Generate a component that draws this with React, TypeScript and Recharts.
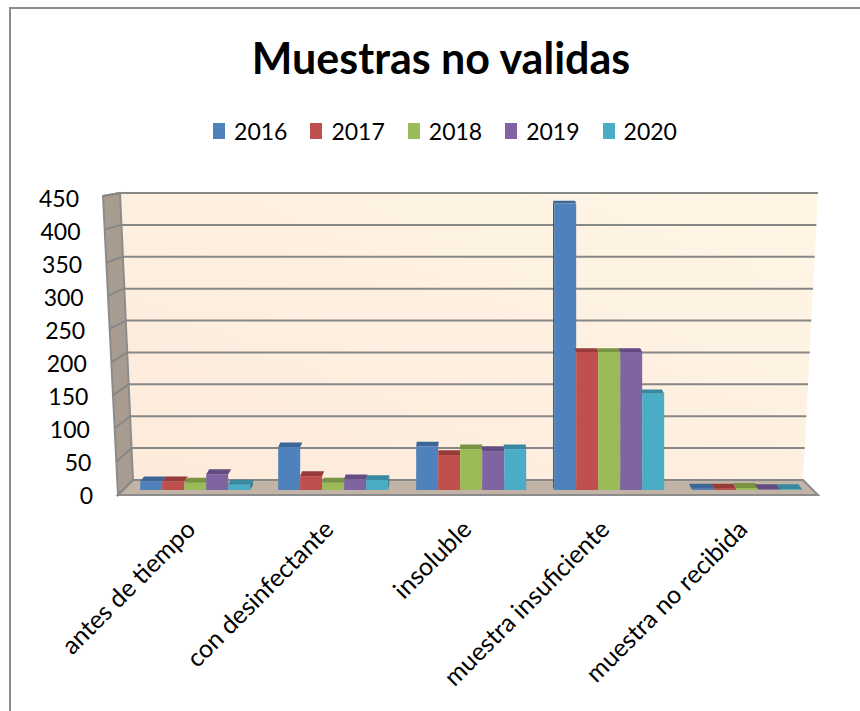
import { BarChart, Bar, XAxis, YAxis, Legend, Customized } from "recharts";

const categories = [
  "antes de tiempo",
  "con desinfectante",
  "insoluble",
  "muestra insuficiente",
  "muestra no recibida",
];
const years = ["2016", "2017", "2018", "2019", "2020"];
const values2016 = [13, 65, 66, 434, 2];
const values2017 = [13, 21, 53, 209, 2];
const values2018 = [11, 11, 62, 209, 3];
const values2019 = [24, 16, 59, 209, 1];
const values2020 = [8, 15, 62, 146, 1];
const yTicks = [0, 50, 100, 150, 200, 250, 300, 350, 400, 450];

const seriesValues = [values2016, values2017, values2018, values2019, values2020];
const colors = ["#4f81bd", "#c0504d", "#9bbb59", "#8064a2", "#4bacc6"];
const topColors = ["#3d6698", "#963b39", "#789443", "#624c82", "#38899f"];
const sideColors = ["#34598a", "#843331", "#6a853a", "#564272", "#31798e"];

const data = categories.map((category, i) => {
  const row: Record<string, string | number> = { category };
  years.forEach((y, j) => {
    row[y] = seriesValues[j][i];
  });
  return row;
});

// layout
const W = 860;
const H = 711;
const PLOT_TOP = 193;
const PLOT_BOTTOM = 490;
const PLOT_RIGHT = 815;
const Y_AXIS_W = 125;
const X_AXIS_H = 60;
const FONT = "Lato, 'Open Sans', sans-serif";
const VIEW_X = 470;

// 3d box (decoration only)
const BACK_TOP = 193;
const BACK_BOTTOM = 480;
const FRONT_BOTTOM = 495;
const lerp = (a: number, b: number, t: number) => a + (b - a) * t;

const Walls = () => {
  const backY = (v: number) => BACK_BOTTOM - (v / 450) * (BACK_BOTTOM - BACK_TOP);
  const outerY = (v: number) => FRONT_BOTTOM - (v / 450) * (FRONT_BOTTOM - 196);
  const backLeft = (y: number) => lerp(133, 120, (BACK_BOTTOM - y) / (BACK_BOTTOM - BACK_TOP));
  const backRight = (y: number) => lerp(803, 818, (BACK_BOTTOM - y) / (BACK_BOTTOM - BACK_TOP));
  const outerX = (y: number) => lerp(118, 103, (FRONT_BOTTOM - y) / (FRONT_BOTTOM - 196));
  return (
    <g>
      <defs>
        <linearGradient id="wallFill" x1="0" y1="1" x2="1" y2="0">
          <stop offset="0%" stopColor="#fdeadb" />
          <stop offset="100%" stopColor="#fff6e6" />
        </linearGradient>
      </defs>
      <polygon
        points={`120,${BACK_TOP} 818,${BACK_TOP} 803,${BACK_BOTTOM} 133,${BACK_BOTTOM}`}
        fill="url(#wallFill)"
      />
      <polygon
        points={`103,196 120,${BACK_TOP} 133,${BACK_BOTTOM} 118,${FRONT_BOTTOM}`}
        fill="#a89c90"
        stroke="#8c8c8c"
        strokeWidth={2}
      />
      <polygon
        points={`118,${FRONT_BOTTOM} 133,${BACK_BOTTOM} 803,${BACK_BOTTOM} 818,${FRONT_BOTTOM}`}
        fill="#c1b3a5"
        stroke="#8c8c8c"
        strokeWidth={2}
      />
      {yTicks.map((v) => {
        const y = backY(v);
        const oy = outerY(v);
        return (
          <g key={v}>
            <line x1={backLeft(y)} y1={y} x2={backRight(y)} y2={y} stroke="#878787" strokeWidth={2} />
            <line x1={backLeft(y)} y1={y} x2={outerX(oy)} y2={oy} stroke="#878787" strokeWidth={2} />
          </g>
        );
      })}
    </g>
  );
};

const makeBarShape = (idx: number) => (props: any) => {
  const { x, y, width, height } = props;
  if (width == null || height == null || isNaN(y)) return <g />;
  const base = y + height;
  const cx = x + width / 2;
  const dx = (VIEW_X - cx) * 0.012;
  const dy = 5 - height * 0.008;
  return (
    <g>
      {dx > 0 && idx === 4 && (
        <polygon
          points={`${x + width},${base} ${x + width + dx},${base - dy} ${x + width + dx},${y - dy} ${x + width},${y}`}
          fill={sideColors[idx]}
        />
      )}
      {dx < 0 && idx === 0 && (
        <polygon
          points={`${x},${base} ${x + dx},${base - dy} ${x + dx},${y - dy} ${x},${y}`}
          fill={sideColors[idx]}
        />
      )}
      <polygon
        points={`${x},${y} ${x + width},${y} ${x + width + dx},${y - dy} ${x + dx},${y - dy}`}
        fill={topColors[idx]}
      />
      <rect x={x} y={y} width={width} height={height} fill={colors[idx]} />
    </g>
  );
};

const YTick = (props: any) => {
  const { y, payload } = props;
  const v = payload.value as number;
  const xEnd = 93 - (v * 14) / 450;
  return (
    <text x={xEnd} y={y} dy={13.5} textAnchor="end" fontSize={23} fontFamily={FONT} fill="#000">
      {v}
    </text>
  );
};

const XTick = (props: any) => {
  const { x, y, payload } = props;
  const ax = x + 3;
  const ay = y + 41;
  return (
    <text
      x={ax}
      y={ay}
      transform={`rotate(-45 ${ax} ${ay})`}
      textAnchor="end"
      fontSize={25}
      fontFamily={FONT}
      fill="#000"
    >
      {payload.value}
    </text>
  );
};

const LegendContent = () => (
  <div style={{ display: "flex", justifyContent: "center", alignItems: "center", paddingLeft: 30 }}>
    {years.map((yr, i) => (
      <div key={yr} style={{ display: "flex", alignItems: "center", marginRight: i < years.length - 1 ? 23 : 0 }}>
        <span style={{ display: "inline-block", width: 12, height: 16, background: colors[i], marginRight: 9 }} />
        <span style={{ fontFamily: FONT, fontSize: 23, color: "#000", lineHeight: "28px" }}>{yr}</span>
      </div>
    ))}
  </div>
);

export default function App() {
  return (
    <div style={{ position: "absolute", left: 0, top: 0, width: W, height: H, background: "#fff", overflow: "hidden" }}>
      <div
        style={{
          position: "absolute",
          left: 9,
          top: 7,
          width: 849,
          height: 702,
          borderLeft: "2px solid #8c8c8c",
          borderTop: "2px solid #8c8c8c",
        }}
      />
      <div
        style={{
          position: "absolute",
          left: 0,
          width: 882,
          top: 30,
          textAlign: "center",
          fontFamily: FONT,
          fontWeight: 700,
          fontSize: 43,
          lineHeight: "56px",
          color: "#000",
        }}
      >
        Muestras no validas
      </div>
      <div style={{ position: "absolute", left: 0, top: 0 }}>
        <BarChart
          width={W}
          height={H}
          data={data}
          barGap={0}
          barCategoryGap="11%"
          margin={{ top: PLOT_TOP, right: W - PLOT_RIGHT, bottom: H - PLOT_BOTTOM - X_AXIS_H, left: 0 }}
        >
          <Customized component={<Walls />} />
          <XAxis
            dataKey="category"
            height={X_AXIS_H}
            axisLine={false}
            tickLine={false}
            tickSize={0}
            tickMargin={0}
            interval={0}
            tick={<XTick />}
          />
          <YAxis
            width={Y_AXIS_W}
            domain={[0, 450]}
            ticks={yTicks}
            axisLine={false}
            tickLine={false}
            tick={<YTick />}
          />
          <Legend
            layout="horizontal"
            verticalAlign="middle"
            align="center"
            wrapperStyle={{ top: 117, left: 0, width: W }}
            content={<LegendContent />}
          />
          {years.map((yr, i) => (
            <Bar key={yr} dataKey={yr} fill={colors[i]} shape={makeBarShape(i)} isAnimationActive={false} />
          ))}
        </BarChart>
      </div>
    </div>
  );
}
